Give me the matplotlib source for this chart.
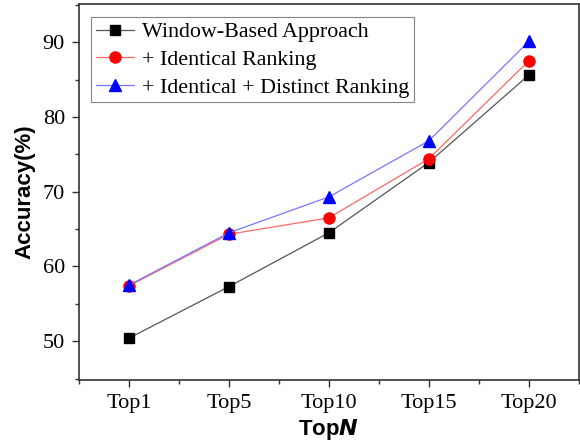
import matplotlib
matplotlib.use("Agg")
import matplotlib.pyplot as plt
from matplotlib.ticker import MultipleLocator

categories = ["Top1", "Top5", "Top10", "Top15", "Top20"]
window_based = [50.4, 57.3, 64.5, 73.9, 85.6]
identical = [57.4, 64.3, 66.5, 74.4, 87.5]
identical_distinct = [57.5, 64.5, 69.3, 76.8, 90.1]

serif = ["Liberation Serif", "DejaVu Serif"]
sans = ["Liberation Sans", "DejaVu Sans"]

fig = plt.figure(figsize=(5.8, 4.43), dpi=100)
ax = fig.add_axes([0.136, 0.142, 0.862, 0.849])

x = range(len(categories))
ax.plot(x, window_based, color="#555555", lw=0.9, marker="s", ms=7,
        mfc="black", mec="black", label="Window-Based Approach")
ax.plot(x, identical, color="#ff6666", lw=0.9, marker="o", ms=8,
        mfc="red", mec="red", label="+ Identical Ranking")
ax.plot(x, identical_distinct, color="#7777ff", lw=0.9, marker="^", ms=8,
        mfc="blue", mec="blue", label="+ Identical + Distinct Ranking")

ax.set_xlim(-0.5, 4.5)
ax.set_ylim(44.8, 95.1)
ax.set_xticks(list(x))
ax.set_xticklabels(categories, fontfamily=serif, fontsize=16)
ax.set_xticks([-0.5, 0.5, 1.5, 2.5, 3.5, 4.5], minor=True)
ax.yaxis.set_major_locator(MultipleLocator(10))
ax.yaxis.set_minor_locator(MultipleLocator(5))
for lab in ax.get_yticklabels():
    lab.set_fontfamily(serif)
    lab.set_fontsize(16)

ax.tick_params(which="major", direction="out", length=5, width=1, color="#333333", pad=5)
ax.tick_params(which="minor", direction="out", length=3, width=1, color="#333333")
for s in ax.spines.values():
    s.set_linewidth(1.2)
    s.set_color("#333333")

ax.set_ylabel("Accuracy(%)", fontfamily=sans, fontweight="bold", fontsize=16, labelpad=5)
ax.set_xlabel(r"Top$\boldsymbol{N}$", fontfamily=sans, fontweight="bold", fontsize=16, labelpad=3)

leg = ax.legend(loc="upper left", bbox_to_anchor=(0.024, 0.965), prop={"family": serif, "size": 15.8},
                frameon=True, fancybox=False, edgecolor="#666666", borderpad=0.22,
                labelspacing=0.33, handlelength=1.75, handletextpad=0.36, borderaxespad=0)
leg.get_frame().set_linewidth(0.8)

fig.savefig("out.png", dpi=100)
